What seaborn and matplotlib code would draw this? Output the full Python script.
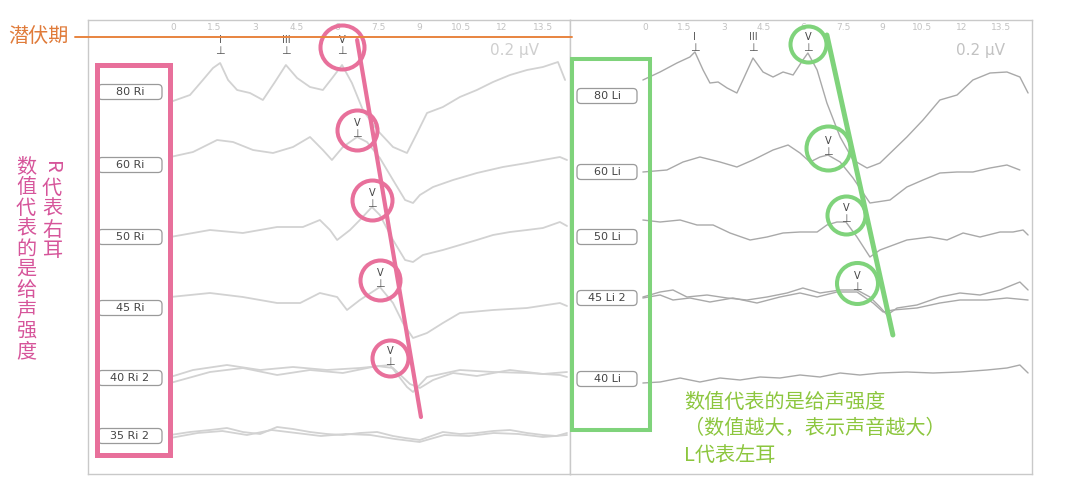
import numpy as np
import matplotlib.pyplot as plt
import seaborn as sns
from matplotlib.patches import Rectangle, FancyBboxPatch

sns.set_style('white')
plt.rcParams['font.family'] = ['Noto Sans CJK SC', 'DejaVu Sans']

W, H = 1079, 483

# time axis (ms)
ticks = [0, 1.5, 3, 4.5, 6, 7.5, 9, 10.5, 12, 13.5]
tick_text = ['0', '1.5', '3', '4.5', '6', '7.5', '9', '10.5', '12', '13.5']

# ---- right ear (Ri) ----
ri_names = ['80 Ri', '60 Ri', '50 Ri', '45 Ri', '40 Ri 2', '35 Ri 2']

r80_t = [-0.1, 0.62, 1.09, 1.46, 1.72, 2.01, 2.34, 2.81, 3.28, 3.72, 4.12, 4.53, 5.0, 5.47, 5.84, 6.17,
         6.53, 6.93, 7.45, 8.03, 8.54, 8.91, 9.27, 9.85, 10.47, 11.09, 11.68, 12.30, 12.92, 13.5, 14.05, 14.31]
r80_a = [-10, -3, 12, 24, 29, 12, 2, -1, -8, 10, 27, 14, 5, 2, 15, 27,
         9, -18, -38, -55, -61, -41, -21, -15, -5, 2, 10, 17, 22, 25, 30, 12]

r60_t = [-0.1, 0.73, 1.61, 2.19, 2.92, 3.65, 4.38, 5.0, 5.47, 5.80, 6.20, 6.72, 7.08, 7.55, 8.03, 8.47,
         8.76, 9.01, 9.49, 10.22, 11.09, 12.04, 12.92, 13.50, 14.12, 14.38]
r60_a = [8, 13, 25, 23, 15, 12, 18, 28, 15, 5, 18, 28, 23, 7, -15, -35,
         -38, -30, -22, -15, -8, -2, 2, 5, 8, 5]

r50_t = [-0.1, 1.35, 2.55, 3.80, 4.74, 5.36, 5.73, 5.99, 6.46, 6.82, 7.26, 7.55, 8.03, 8.47, 8.76, 9.12,
         9.85, 10.47, 11.09, 11.68, 12.30, 12.92, 13.50, 14.12, 14.38]
r50_a = [0, 7, 4, 10, 10, 17, 7, -3, 7, 17, 30, 22, -3, -23, -25, -18,
         -13, -8, -3, 2, 5, 7, 9, 15, 11]

r45_t = [-0.1, 1.35, 2.55, 3.80, 4.64, 5.36, 5.99, 6.35, 6.82, 7.55, 8.03, 8.39, 8.76, 9.27, 9.85, 10.47,
         11.68, 12.92, 14.12, 14.38]
r45_a = [11, 15, 11, 5, 5, 15, 11, -2, 8, 21, 5, -15, -30, -25, -15, -5,
         -2, 0, 5, 2]

r40a_t = [-0.1, 0.73, 1.97, 3.18, 4.38, 5.62, 6.82, 7.92, 8.54, 8.76, 9.27, 10.47, 11.68, 12.92, 14.12, 14.38]
r40a_a = [1, 8, 13, 8, 11, 8, 10, 13, -9, -14, 1, 8, 6, 5, 3, 1]
r40b_t = [-0.1, 1.35, 2.55, 3.80, 5.0, 6.20, 7.45, 8.03, 8.65, 9.01, 9.49, 10.22, 11.09, 12.30, 13.50, 14.38]
r40b_a = [-5, 6, 10, 3, 8, 5, 12, 10, -6, -10, -2, 5, 2, 8, 4, 6]

r35a_t = [-0.1, 0.62, 1.35, 1.97, 2.55, 3.18, 3.80, 4.38, 5.0, 5.62, 6.20, 6.82, 7.45, 8.03, 8.47, 9.01,
          9.85, 10.47, 11.09, 11.68, 12.30, 12.92, 13.50, 14.0, 14.38]
r35a_a = [1, 4, 6, 8, 4, 2, 9, 7, 4, 2, 1, 3, 4, 0, -2, -4,
          4, 2, 3, 5, 6, 3, 1, 0, 3]
r35b_t = [-0.1, 0.9, 1.8, 2.7, 3.6, 4.5, 5.4, 6.3, 7.2, 8.1, 9.0, 9.9, 10.8, 11.7, 12.6, 13.5, 14.38]
r35b_a = [-2, 3, 5, 1, 6, 3, 0, 2, 1, -3, -6, 1, 0, 3, 2, -1, 1]

ri_waves_80 = [('I', 1.72), ('III', 4.12)]
ri_v_lat = [6.17, 6.72, 7.26, 7.55, 7.92]

# ---- left ear (Li) ----
li_names = ['80 Li', '60 Li', '50 Li', '45 Li 2', '40 Li']

l80_t = [-0.08, 0.57, 1.21, 1.70, 1.89, 2.20, 2.46, 2.77, 3.11, 3.48, 3.71, 4.09, 4.47, 4.85, 5.23, 5.61,
         5.98, 6.17, 6.52, 6.89, 7.39, 7.88, 8.41, 8.90, 9.92, 10.53, 11.17, 11.82, 12.42, 13.07, 13.71,
         14.20, 14.51]
l80_a = [16, 24, 33, 39, 44, 26, 13, 14, 8, 3, 16, 38, 24, 19, 24, 21,
         36, 43, 26, -7, -41, -64, -72, -67, -41, -24, -4, 1, 16, 23, 24,
         19, 3]

l60_t = [-0.08, 0.83, 1.44, 2.08, 2.84, 3.48, 4.09, 4.85, 5.42, 5.87, 6.25, 6.63, 6.93, 7.39, 7.88, 8.52,
         9.28, 9.92, 10.53, 11.17, 11.82, 12.42, 13.07, 13.71, 14.20]
l60_a = [0, 2, 10, 15, 10, 5, 12, 22, 27, 19, 10, 15, 17, 10, -6, -31,
         -28, -15, -8, -1, 0, 0, 4, 7, 2]

l50_t = [-0.08, 0.57, 1.33, 1.97, 2.58, 3.22, 3.98, 4.62, 5.23, 5.87, 6.52, 6.89, 7.27, 7.61, 8.03, 8.52,
         8.90, 9.92, 10.80, 11.44, 12.05, 12.69, 13.45, 13.94, 14.32, 14.51]
l50_a = [17, 15, 17, 12, 12, 4, -3, 0, 4, 5, 5, 12, 15, 15, 0, -20,
         -13, -3, 0, -3, 4, 0, 5, 5, 7, 2]

l45a_t = [-0.08, 0.57, 1.06, 1.59, 2.35, 3.11, 3.86, 4.62, 5.38, 5.98, 6.63, 7.39, 8.03, 8.52, 8.90, 9.17,
          9.55, 10.30, 11.17, 11.93, 12.69, 13.45, 14.20, 14.51]
l45a_a = [1, 6, 8, 1, 3, 0, -2, 1, 5, 10, 5, 8, 8, 1, -9, -17,
          -10, -7, 1, 5, 3, 8, 16, 8]
l45b_t = [-0.08, 0.57, 1.06, 1.70, 2.46, 3.33, 4.24, 5.11, 5.87, 6.52, 7.27, 8.03, 8.64, 9.02, 9.39, 10.30,
          11.17, 11.93, 12.95, 13.71, 14.51]
l45b_a = [0, 3, -2, 0, -4, 0, -5, 1, 5, 1, 6, 6, -5, -14, -12, -10,
          -5, -2, -2, 0, -2]

l40_t = [-0.08, 0.57, 1.33, 2.08, 2.84, 3.60, 4.36, 5.11, 5.87, 6.63, 7.39, 8.14, 8.90, 9.92, 10.91, 11.93,
         12.95, 13.71, 14.20, 14.51]
l40_a = [-4, -3, 1, -3, 1, -1, 2, 1, 4, 2, 6, 4, 6, 7, 6, 7,
         9, 11, 14, 6]

li_waves_80 = [('I', 1.89), ('III', 4.09)]
li_v_lat = [6.17, 6.93, 7.61, 8.03]

# ---- layout (pixels) ----
PINK = '#e8709b'
GREEN = '#7fd37b'
ri_rows = [92, 165, 237, 308, 378, 436]
li_rows = [96, 172, 237, 298, 379]

panels = [
    dict(box=(88, 570), zero=173, pxms=27.4, rows=ri_rows, names=ri_names, lab_x=(98, 162),
         traces=[(0, r80_t, r80_a), (1, r60_t, r60_a), (2, r50_t, r50_a), (3, r45_t, r45_a),
                 (4, r40a_t, r40a_a), (4, r40b_t, r40b_a), (5, r35a_t, r35a_a), (5, r35b_t, r35b_a)],
         line='#d2d2d2', lw=1.3, early=ri_waves_80, vlat=ri_v_lat, top=(40, 51),
         ring=PINK, ring_d=[48, 44, 44, 44, 40], slant=((6.72, 40), (9.05, 417)), slant_lw=3.0,
         scale_x=515, scale_c='#cfcfcf'),
    dict(box=(570, 1032), zero=645, pxms=26.4, rows=li_rows, names=li_names, lab_x=(577, 637),
         traces=[(0, l80_t, l80_a), (1, l60_t, l60_a), (2, l50_t, l50_a), (3, l45a_t, l45a_a),
                 (3, l45b_t, l45b_a), (4, l40_t, l40_a)],
         line='#a9a9a9', lw=1.0, early=li_waves_80, vlat=li_v_lat, top=(37, 48),
         ring=GREEN, ring_d=[40, 48, 42, 45], slant=((6.89, 35), (9.39, 335)), slant_lw=3.6,
         scale_x=980, scale_c='#c2c2c2'),
]

fig = plt.figure(figsize=(W / 100, H / 100), dpi=100)
fig.patch.set_facecolor('white')

top_px, bot_px = 20, 474
for p in panels:
    x0, x1 = p['box']
    ax = fig.add_axes([x0 / W, 1 - bot_px / H, (x1 - x0) / W, (bot_px - top_px) / H])
    ax.set_xlim((x0 - p['zero']) / p['pxms'], (x1 - p['zero']) / p['pxms'])
    ax.set_ylim(bot_px, top_px)
    for s in ax.spines.values():
        s.set_color('#c9c9c9')
        s.set_linewidth(1.0)
    ax.set_xticks(ticks)
    ax.set_xticklabels(tick_text, family='DejaVu Sans')
    ax.set_yticks([])
    ax.tick_params(axis='x', bottom=False, labelbottom=False, top=False, labeltop=True,
                   length=0, pad=-9, labelsize=6.5, labelcolor='#c2c2c2')

    first = {}
    for k, t, a in p['traces']:
        y = [p['rows'][k] - v for v in a]
        sns.lineplot(x=t, y=y, ax=ax, color=p['line'], linewidth=p['lw'], sort=False, estimator=None)
        first.setdefault(k, (t, y))
    ax.set_xlabel('')
    ax.set_ylabel('')

    # wave labels I, III on the loudest trace
    for name, lat in p['early']:
        ax.text(lat, p['top'][0], name, ha='center', va='center', fontsize=7, color='#555555',
                family='DejaVu Sans')
        ax.text(lat, p['top'][1], '⊥', ha='center', va='center', fontsize=8, color='#555555',
                family='DejaVu Sans')

    # wave V with rings
    for k, lat in enumerate(p['vlat']):
        t, y = first[k]
        if k == 0:
            my = p['top'][1]
        else:
            my = np.interp(lat, t, y) - 3
        ax.text(lat, my - 11, 'V', ha='center', va='center', fontsize=7, color='#444444',
                family='DejaVu Sans')
        ax.text(lat, my, '⊥', ha='center', va='center', fontsize=8, color='#555555',
                family='DejaVu Sans')
        ax.plot([lat], [my - 4], marker='o', mfc='none', mec=p['ring'], mew=2.9,
                ms=(p['ring_d'][k] - 4) * 0.72, clip_on=False, zorder=5)
    (sx0, sy0), (sx1, sy1) = p['slant']
    ax.plot([sx0, sx1], [sy0, sy1], color=p['ring'], lw=p['slant_lw'], solid_capstyle='round',
            clip_on=False, zorder=5)
    p['ax'] = ax

# overlay in pixel coordinates for annotations
ov = fig.add_axes([0, 0, 1, 1], zorder=10)
ov.set_xlim(0, W)
ov.set_ylim(H, 0)
ov.axis('off')
ov.patch.set_alpha(0)

for p in panels:
    lx0, lx1 = p['lab_x']
    for row, name in zip(p['rows'], p['names']):
        ov.add_patch(FancyBboxPatch((lx0, row - 7.5), lx1 - lx0, 15,
                                    boxstyle='round,pad=0,rounding_size=4',
                                    fc='white', ec='#9a9a9a', lw=0.9))
        ov.text((lx0 + lx1) / 2, row, name, ha='center', va='center', fontsize=8,
                color='#444444', family='DejaVu Sans')
    ov.text(p['scale_x'], 50, '0.2 μV', ha='center', va='center', fontsize=11,
            color=p['scale_c'], family='DejaVu Sans')

ov.add_patch(Rectangle((96.5, 64.5), 73, 390, fill=False, ec=PINK, lw=3.6))
ov.add_patch(Rectangle((572, 59), 78, 371, fill=False, ec=GREEN, lw=2.9))

# latency marker
ov.plot([75, 572], [37, 37], color='#e8843f', lw=1.4)
ov.text(38, 37, '潜伏期', ha='center', va='center', fontsize=14.5, color='#e07b3a')

# vertical notes (right ear)
for i, ch in enumerate('R代表右耳'):
    ov.text(52, 167 + i * 21, ch, ha='center', va='center', fontsize=14.5, color='#d6559a',
            rotation=-90 if ch == 'R' else 0)
for i, ch in enumerate('数值代表的是给声强度'):
    ov.text(26, 167 + i * 20.5, ch, ha='center', va='center', fontsize=14.5, color='#d6559a')

# notes (left ear)
notes = ['数值代表的是给声强度', '（数值越大，表示声音越大）', 'L代表左耳']
for i, s in enumerate(notes):
    ov.text(684, 402 + i * 26.5, s, ha='left', va='center', fontsize=14.5, color='#8cc63e')

fig.savefig('out.png', dpi=100, facecolor='white')
